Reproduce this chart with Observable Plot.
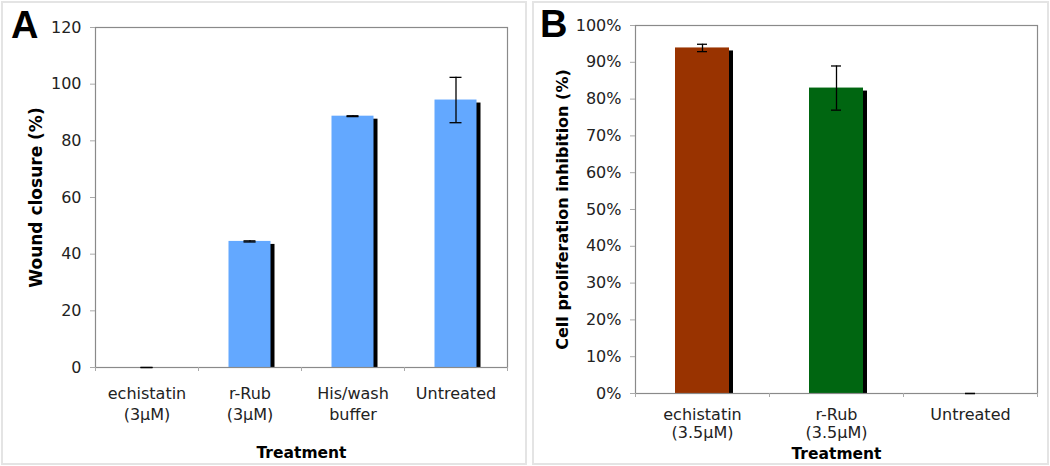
<!DOCTYPE html>
<html>
<head>
<meta charset="utf-8">
<script src="https://cdn.jsdelivr.net/npm/d3@7"></script>
<script src="https://cdn.jsdelivr.net/npm/@observablehq/plot@0.6"></script>
<style>
  html, body { margin: 0; padding: 0; background: #fff; }
  body { width: 1050px; height: 466px; position: relative; overflow: hidden; font-family: "DejaVu Sans", Verdana, sans-serif; }
  .panel { position: absolute; box-sizing: border-box; border: 2px solid #e4e4e4; }
  .letter { position: absolute; font-family: "Liberation Sans", Arial, sans-serif; font-weight: bold; font-size: 38px; line-height: 1; color: #000; }
  .chart { position: absolute; top: 0; }
</style>
</head>
<body>
<div class="panel" style="left:1px; top:1px; width:526px; height:464px;"></div>
<div class="panel" style="left:532px; top:1px; width:517px; height:464px;"></div>
<div id="chartA" class="chart" style="left:0px;"></div>
<div id="chartB" class="chart" style="left:530px;"></div>
<div class="letter" style="left:11px; top:6px;">A</div>
<div class="letter" style="left:540px; top:5px;">B</div>
<script>
// ---- Panel A data ----
const catsA = ["echistatin", "r-Rub", "His/wash", "Untreated"];
const labelsA = ["echistatin\n(3μM)", "r-Rub\n(3μM)", "His/wash\nbuffer", "Untreated"];
const valuesA = [0, 44.5, 88.7, 94.4];
const errorsA = [0, 0.2, 0.15, 8.0];
const ticksA = [0, 20, 40, 60, 80, 100, 120];
const yTitleA = "Wound closure (%)";
const xTitle = "Treatment";

// ---- Panel B data ----
const catsB = ["echistatin", "r-Rub", "Untreated"];
const labelsB = ["echistatin\n(3.5μM)", "r-Rub\n(3.5μM)", "Untreated"];
const valuesB = [93.9, 83.0, 0];
const errorsB = [1.0, 6.0, 0];
const colorsB = ["#993300", "#006611", "#006611"];
const ticksB = [0, 10, 20, 30, 40, 50, 60, 70, 80, 90, 100];
const yTitleB = "Cell proliferation inhibition (%)";

const colorA = "#63a8ff";

function makeChart({cats, labels, values, errors, colors, ticks, yDomain, yFmt, yTitle,
                    width, height, ml, mr, mt, mb, barW, capW, labelDy, lineH, titleDy, yTitleDx, yTitleSize}) {
  const rows = cats.map((c, i) => ({cat: c, label: labels[i], v: values[i], e: errors[i], color: colors[i]}));
  const band = (width - ml - mr) / cats.length;
  const inset = (band - barW) / 2;
  const capInset = band / 2 - capW / 2;
  return Plot.plot({
    width, height,
    marginLeft: ml, marginRight: mr, marginTop: mt, marginBottom: mb,
    style: {fontFamily: "'DejaVu Sans', Verdana, sans-serif", fontSize: "16px", color: "#222", background: "transparent", overflow: "visible"},
    x: {type: "band", domain: cats, padding: 0, axis: null},
    y: {domain: yDomain, axis: null},
    marks: [
      Plot.barY(rows, {x: "cat", y: "v", fill: "#000", dx: 4, dy: 3, insetLeft: inset, insetRight: inset, clip: true}),
      Plot.barY(rows, {x: "cat", y: "v", fill: "color", insetLeft: inset, insetRight: inset}),
      Plot.frame({stroke: "#8a8a8a", strokeWidth: 1.2}),
      Plot.axisY({ticks, tickSize: 5, tickPadding: 9, tickFormat: yFmt, stroke: "#aaa", fill: "#222", fontSize: 16, label: null}),
      Plot.ruleX(cats, {x: d => d, y1: yDomain[0], y2: yDomain[0], insetBottom: -4, dx: -band / 2, stroke: "#aaa"}),
      Plot.ruleX(cats.slice(-1), {x: d => d, y1: yDomain[0], y2: yDomain[0], insetBottom: -4, dx: band / 2, stroke: "#aaa"}),
      Plot.ruleX(rows, {x: "cat", y1: d => d.v - d.e, y2: d => d.v + d.e, stroke: "#000", strokeWidth: 1.3}),
      Plot.tickY(rows, {x: "cat", y: d => d.v - d.e, stroke: "#000", strokeWidth: 1.3, insetLeft: capInset, insetRight: capInset}),
      Plot.tickY(rows, {x: "cat", y: d => d.v + d.e, stroke: "#000", strokeWidth: 1.3, insetLeft: capInset, insetRight: capInset}),
      Plot.text(rows, {x: "cat", text: "label", frameAnchor: "bottom", lineAnchor: "top", dy: labelDy, lineHeight: lineH, fill: "#222", fontSize: 16}),
      Plot.text([xTitle], {frameAnchor: "bottom", dy: titleDy, fontWeight: "bold", fontSize: 15.5, fill: "#000"}),
      Plot.text([yTitle], {frameAnchor: "left", textAnchor: "middle", rotate: -90, dx: yTitleDx, fontWeight: "bold", fontSize: yTitleSize, fill: "#000"})
    ]
  });
}

document.getElementById("chartA").append(makeChart({
  cats: catsA, labels: labelsA, values: valuesA, errors: errorsA, colors: catsA.map(() => colorA),
  ticks: ticksA, yDomain: [0, 120], yFmt: d => String(d), yTitle: yTitleA,
  width: 530, height: 466, ml: 95, mr: 23, mt: 27, mb: 99,
  barW: 42, capW: 12, labelDy: 17, lineH: 1.3, titleDy: 90, yTitleDx: -59, yTitleSize: 17
}));

document.getElementById("chartB").append(makeChart({
  cats: catsB, labels: labelsB, values: valuesB, errors: errorsB, colors: colorsB,
  ticks: ticksB, yDomain: [0, 100], yFmt: d => d + "%", yTitle: yTitleB,
  width: 520, height: 466, ml: 105, mr: 13, mt: 25, mb: 73,
  barW: 54, capW: 10, labelDy: 13, lineH: 1.15, titleDy: 65, yTitleDx: -73, yTitleSize: 16
}));
</script>
</body>
</html>
